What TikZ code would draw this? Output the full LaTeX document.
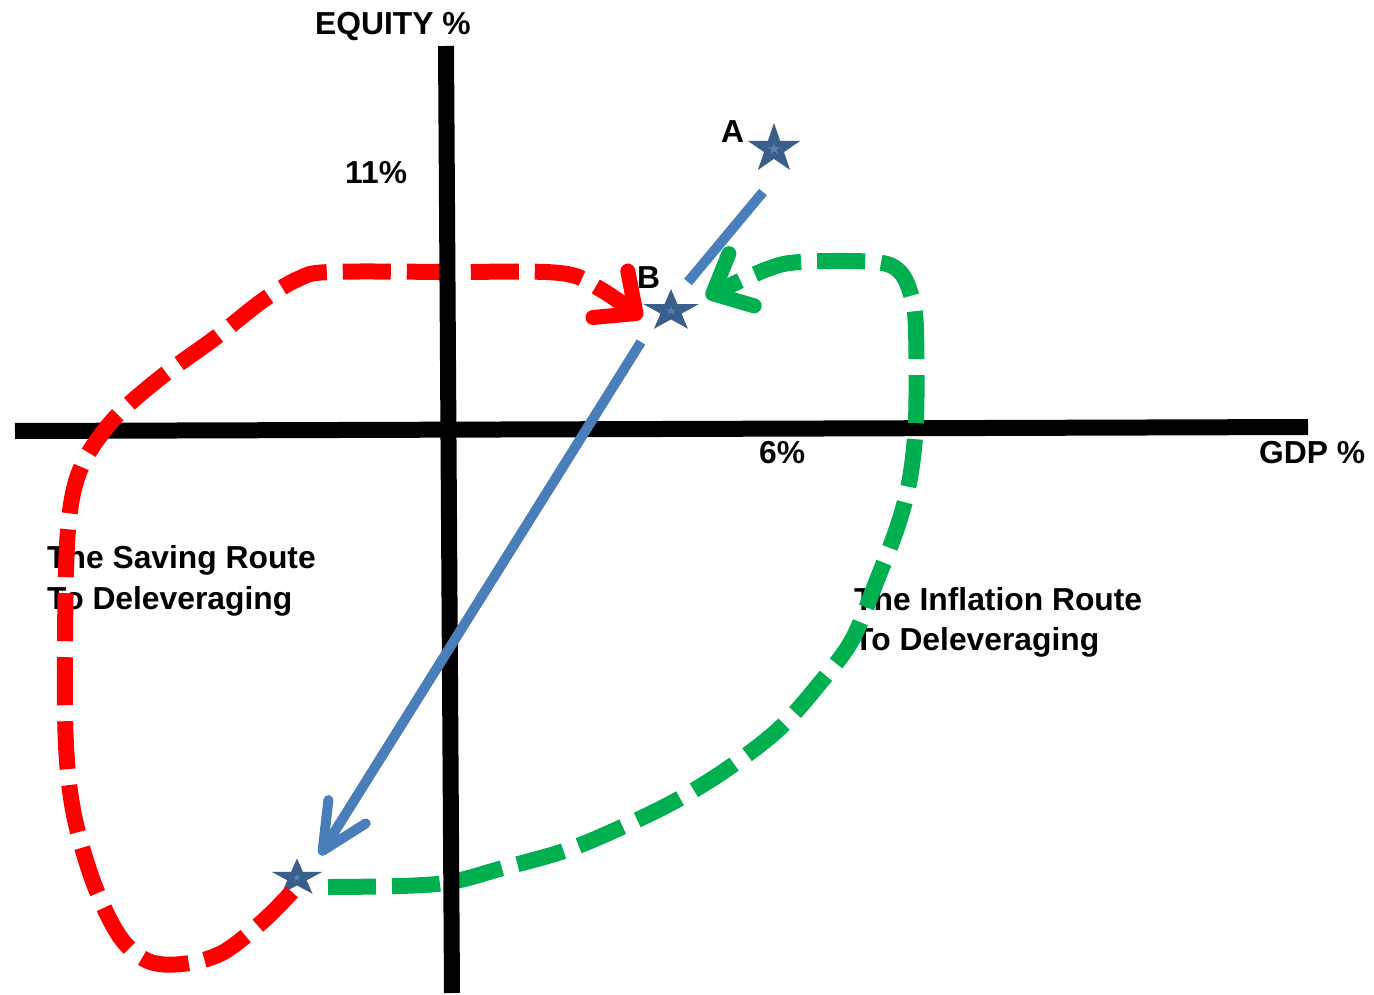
\documentclass[tikz,border=0pt]{standalone}
\usepackage{fontspec}
\setmainfont{Liberation Sans}
\usetikzlibrary{arrows.meta}
\definecolor{routered}{HTML}{FF0000}
\definecolor{routegreen}{HTML}{00B050}
\definecolor{pathblue}{HTML}{4A7EBB}
\definecolor{stardark}{HTML}{3A5F8B}
\definecolor{starlight}{HTML}{4F81BD}
\begin{document}
\begin{tikzpicture}[x=1pt,y=-1pt,
  lbl/.style={font=\fontsize{31.8}{40}\selectfont\bfseries, inner sep=0pt, anchor=base west},
  axisline/.style={line width=16pt, black},
  route/.style={line width=16pt, dash pattern=on 48pt off 16pt},
  routetip/.style={-{Straight Barb[length=32pt,width=58pt,line width=15pt,round]}},
  blueline/.style={line width=10pt, pathblue},
  bluetip/.style={-{Straight Barb[length=46pt,width=44pt,line width=10pt,round]}},
  starshape/.pic={
    \fill[pic actions] (-90:1) -- (-54:0.382) -- (-18:1) -- (18:0.382) -- (54:1)
      -- (90:0.382) -- (126:1) -- (162:0.382) -- (198:1) -- (234:0.382) -- cycle;
  },
  starpts/.style={fill=stardark},
  starmid/.style={fill=starlight}
]
\useasboundingbox (0,0) rectangle (1374,995);

% horizontal axis
\coordinate (hl) at (15,431);
\coordinate (hr) at (1308,427);
\draw[axisline] (hl) -- (hr);

% labels
\node[lbl] (eq) at (315,35) {EQUITY \%};
\node[lbl] (eleven) at (345,184) {11\%};
\node[lbl] (six) at (759,463) {6\%};
\node[lbl] (gdp) at (1259,463) {GDP \%};
\node[lbl] (la) at (721,143) {A};
\node[lbl] (lb) at (637,288) {B};
\node[lbl] (sav1) at (47,568) {The Saving Route};
\node[lbl] (sav2) at (47,609) {To Deleveraging};
\node[lbl] (inf1) at (854,610) {The Inflation Route};
\node[lbl] (inf2) at (854,650) {To Deleveraging};

% stars
\coordinate (A) at (774,149);
\coordinate (B) at (671,311);
\coordinate (C) at (297,878);
\pic[starpts, xscale=27.5, yscale=26] at (A) {starshape};
\pic[starmid, xscale=6.5, yscale=6] at (A) {starshape};
\pic[starpts, xscale=29, yscale=22] at (B) {starshape};
\pic[starmid, xscale=5.5, yscale=4.5] at (B) {starshape};
\pic[starpts, xscale=26.5, yscale=19.5] at (C) {starshape};
\pic[starmid, xscale=4.5, yscale=4] at (C) {starshape};

% saving route (red)
\coordinate (rs) at (292,892);
\coordinate (re) at (642,318);
\draw[route, routered, routetip] plot[smooth, tension=0.55] coordinates {
  (rs) (262,922) (222,953) (182,964) (148,961) (120,937) (94,884) (74,815)
  (66,745) (65,640) (68,530) (80,470) (112,421) (160,378) (215,338)
  (262,301) (298,279) (330,272) (450,272) (560,273) (600,289) (re)};

% inflation route (green)
\coordinate (gs) at (328,887);
\coordinate (ge) at (706,297);
\draw[route, routegreen, routetip] plot[smooth, tension=0.55] coordinates {
  (gs) (437,884) (503,868) (567,850) (622,827) (677,800) (730,767)
  (780,728) (820,683) (852,640) (877,580) (898,525) (910,478) (916,420)
  (916,330) (912,298) (900,272) (875,262) (800,262) (765,270) (ge)};

% vertical axis
\coordinate (vt) at (446,46);
\coordinate (vb) at (452,993);
\draw[axisline] (vt) -- (vb);

% blue path A -> B -> C
\coordinate (a1) at (763,192);
\coordinate (a2) at (688,282);
\draw[blueline] (a1) -- (a2);
\coordinate (b1) at (641,342);
\coordinate (c1) at (320,855);
\draw[blueline, bluetip] (b1) -- (c1);
\end{tikzpicture}
\end{document}
